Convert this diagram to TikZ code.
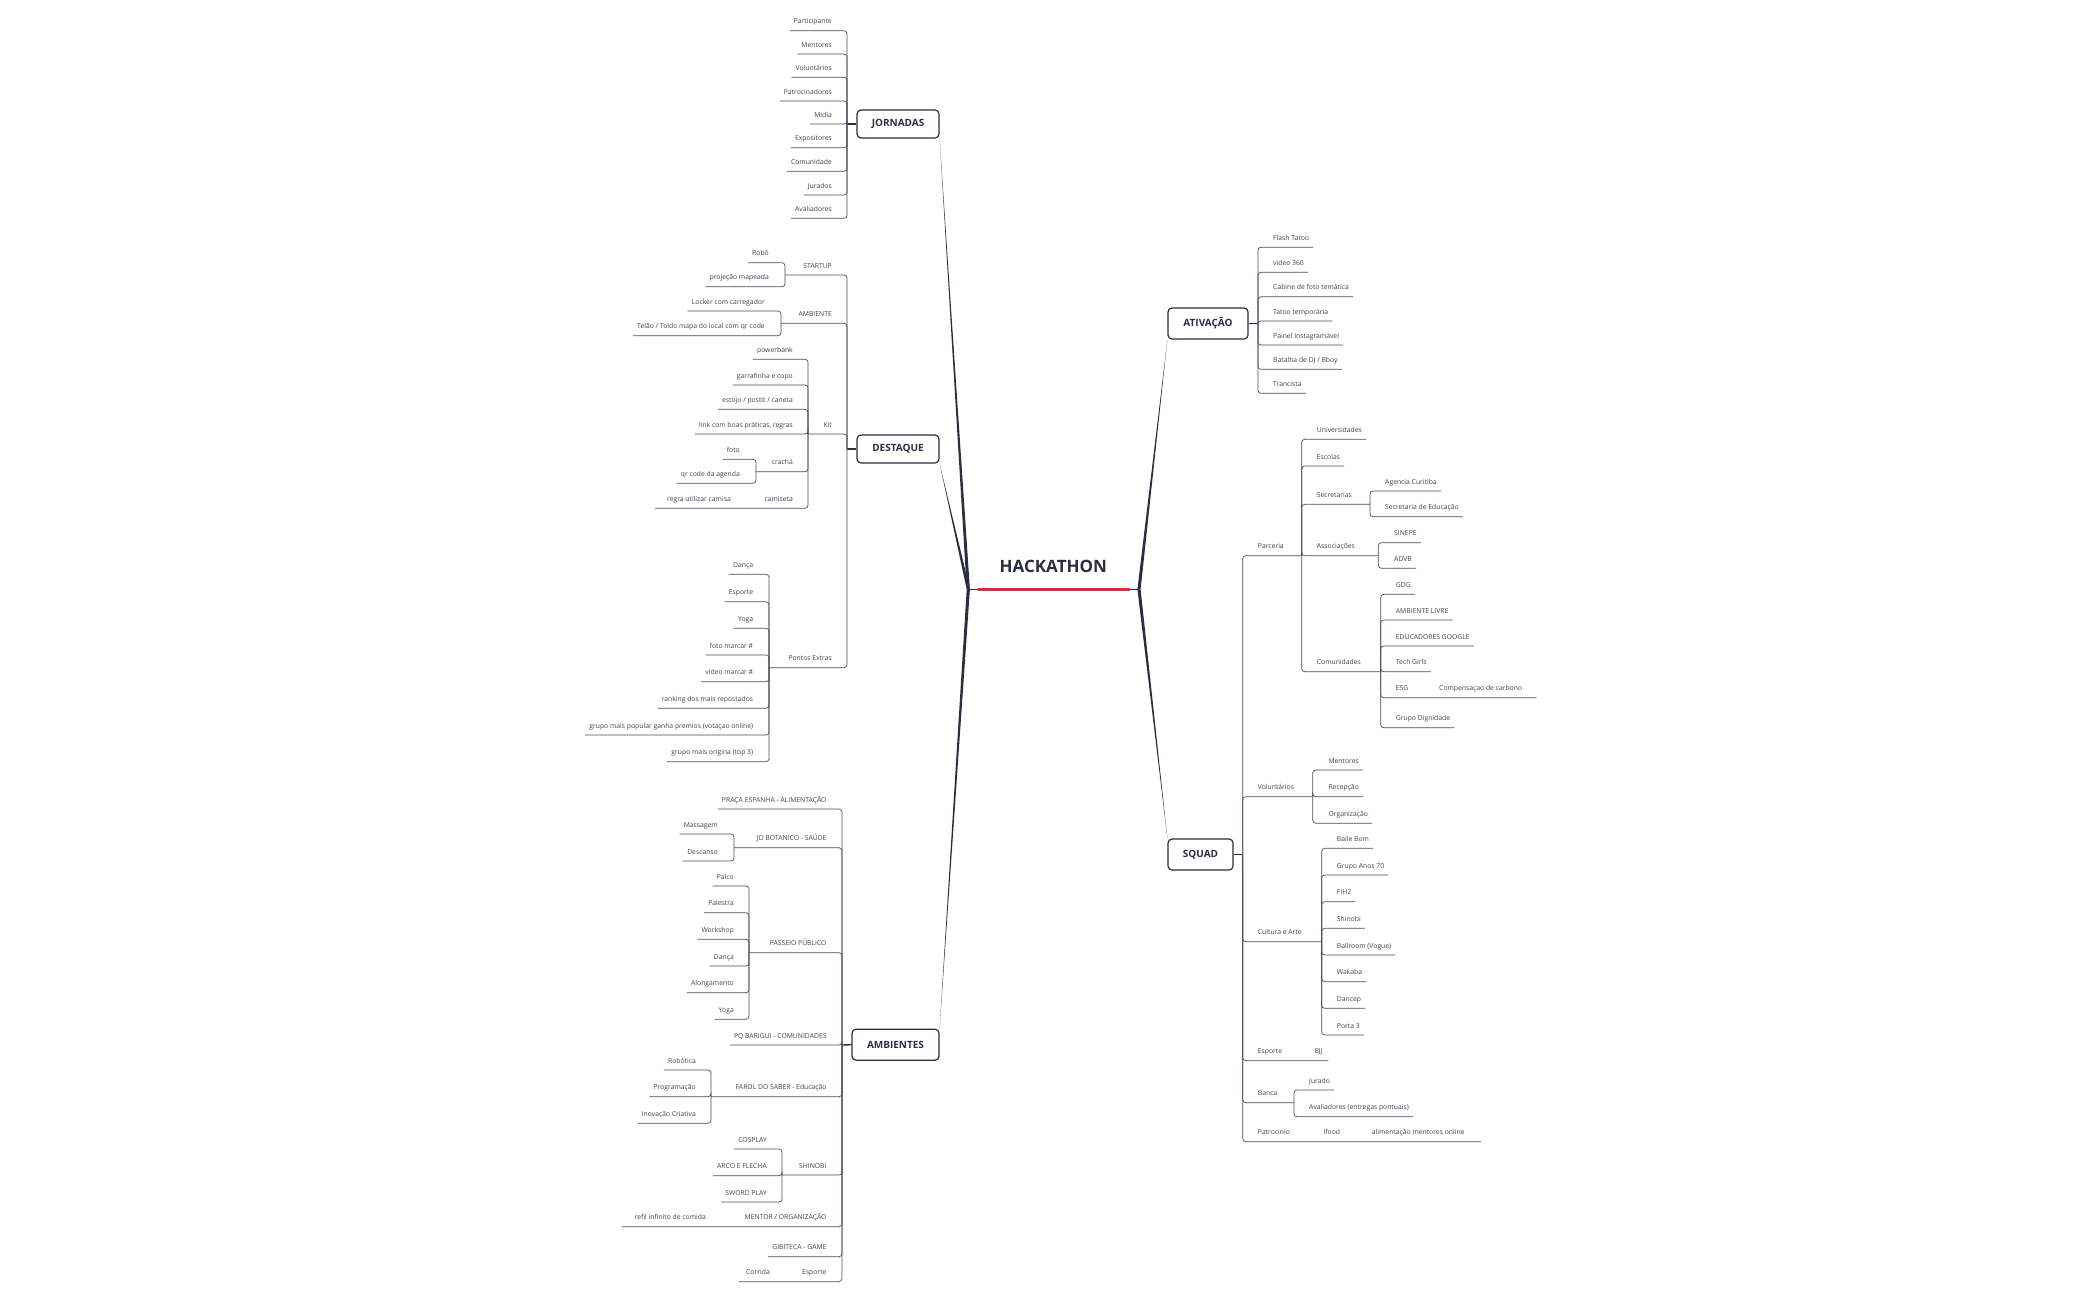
\documentclass[tikz,border=0pt]{standalone}
\usepackage{fontspec}
\setmainfont{Open Sans}
\definecolor{dk}{HTML}{2B2D42}
\definecolor{tx}{HTML}{3F4150}
\definecolor{rd}{HTML}{E8233F}
\tikzset{
 it/.style={inner sep=0pt,font=\fontsize{6.8}{8}\selectfont,text=tx},
 br/.style={draw=dk!85,line width=0.7pt,rounded corners=3pt},
 topic/.style={draw=dk,line width=1.2pt,rounded corners=4pt,font=\fontsize{10}{12}\selectfont\bfseries,text=dk,inner sep=0pt},
 stub/.style={draw=dk,line width=1.4pt}
}
% left item: name, xv, py, y, text, textright
\newcommand\LI[6]{\node[it,anchor=base east] (#1) at (#6,#4-7) {#5};
 \draw[br] (#2,#3) -- (#2,#4) -- (#1.west |- 0,#4) -- ++(-4,0);}
% left parent with explicit left end
\newcommand\LP[7]{\node[it,anchor=base east] (#1) at (#6,#4-7) {#5};
 \draw[br] (#2,#3) -- (#2,#4) -- (#7,#4);}
\newcommand\RI[6]{\node[it,anchor=base west] (#1) at (#6,#4-7) {#5};
 \draw[br] (#2,#3) -- (#2,#4) -- (#1.east |- 0,#4) -- ++(4,0);}
\newcommand\RP[7]{\node[it,anchor=base west] (#1) at (#6,#4-7) {#5};
 \draw[br] (#2,#3) -- (#2,#4) -- (#7,#4);}
\begin{document}
\begin{tikzpicture}[x=1pt,y=-1pt]
\useasboundingbox (0,0) rectangle (2100,1299);
% center
\node[font=\fontsize{17}{20}\selectfont\bfseries,text=dk] (hack) at (1053.3,566) {HACKATHON};
\coordinate (jl) at (968.3,589.3);
\coordinate (jr) at (1139,589.3);
\draw[rd,line width=3.2pt] (977.7,589.3) -- (1130,589.3);
\draw[stub] (jl) -- (977.7,589.3);
\draw[stub] (1130,589.3) -- (jr);
% topics
\node[topic,minimum width=82pt,minimum height=28pt] (jor) at (898,124) {JORNADAS};
\node[topic,minimum width=82pt,minimum height=28pt] (des) at (898,449) {DESTAQUE};
\node[topic,minimum width=87pt,minimum height=31pt] (amb) at (895.5,1044.7) {AMBIENTES};
\node[topic,minimum width=80pt,minimum height=31pt] (ati) at (1208,323.5) {ATIVAÇÃO};
\node[topic,minimum width=65pt,minimum height=31pt] (squ) at (1200.5,854.5) {SQUAD};
% tapered connectors
\fill[dk] ([xshift=-1.6pt]jl) -- ([xshift=1.6pt]jl) -- (jor.south east) -- cycle;
\fill[dk] ([xshift=-1.6pt]jl) -- ([xshift=1.6pt]jl) -- (des.south east) -- cycle;
\fill[dk] ([xshift=-1.6pt]jl) -- ([xshift=1.6pt]jl) -- (amb.north east) -- cycle;
\fill[dk] ([xshift=-1.6pt]jr) -- ([xshift=1.6pt]jr) -- (ati.south west) -- cycle;
\fill[dk] ([xshift=-1.6pt]jr) -- ([xshift=1.6pt]jr) -- (squ.north west) -- cycle;
% stubs topic -> vertical
\draw[stub] (jor.west) -- (847,124);
\draw[stub] (des.west) -- (847,449);
\draw[stub] (amb.west) -- (842,1045);
\draw[stub] (ati.east) -- (1258,323.5);
\draw[stub] (squ.east) -- (1242.7,854.5);
% ---------- JORNADAS
\LI{j1}{847}{124}{30.7}{Participante}{832}
\LI{j2}{847}{124}{54}{Mentores}{832}
\LI{j3}{847}{124}{77.3}{Voluntários}{832}
\LI{j4}{847}{124}{101}{Patrocinadores}{832}
\LI{j5}{847}{124}{124}{Midia}{832}
\LI{j6}{847}{124}{147.7}{Expositores}{832}
\LI{j7}{847}{124}{171.3}{Comunidade}{832}
\LI{j8}{847}{124}{195}{Jurados}{832}
\LI{j9}{847}{124}{218.3}{Avaliadores}{832}
% ---------- DESTAQUE
\LP{st}{847}{449}{275}{STARTUP}{832}{785}
\LI{st1}{785}{275}{262.7}{Robô}{769}
\LI{st2}{785}{275}{286.7}{projeção mapeada}{769}
\LP{am}{847}{449}{323.3}{AMBIENTE}{832}{781}
\LI{am1}{781}{323.3}{311}{Locker com carregador}{765}
\LI{am2}{781}{323.3}{335.7}{Telão / Toldo mapa do local com qr code}{765}
\LP{kit}{847}{449}{434}{Kit}{832}{808}
\LI{k1}{808}{434}{359.3}{powerbank}{793}
\LI{k2}{808}{434}{385}{garrafinha e copo}{793}
\LI{k3}{808}{434}{409.3}{estojo / postit / caneta}{793}
\LI{k4}{808}{434}{434}{link com boas práticas, regras}{793}
\LP{k5}{808}{434}{471.7}{crachá}{793}{756}
\LI{k51}{756}{471.7}{459.3}{foto}{740}
\LI{k52}{756}{471.7}{483.3}{qr code da agenda}{740}
\LP{k6}{808}{434}{508.3}{camiseta}{793}{655}
\node[it,anchor=base east] (k61) at (731,501.3) {regra utilizar camisa};
\LP{pe}{847}{449}{667.7}{Pontos Extras}{832}{769}
\LI{pe1}{769}{667.7}{574.3}{Dança}{753.3}
\LI{pe2}{769}{667.7}{601.7}{Esporte}{753.3}
\LI{pe3}{769}{667.7}{628.3}{Yoga}{753.3}
\LI{pe4}{769}{667.7}{655}{foto marcar \#}{753.3}
\LI{pe5}{769}{667.7}{681.7}{video marcar \#}{753.3}
\LI{pe6}{769}{667.7}{708.3}{ranking dos mais repostados}{753.3}
\LI{pe7}{769}{667.7}{735}{grupo mais popular ganha premios (votaçao online)}{753.3}
\LI{pe8}{769}{667.7}{761.7}{grupo mais origina (top 3)}{753.3}
% ---------- AMBIENTES
\LI{a1}{842}{1045}{809}{PRAÇA ESPANHA - ALIMENTAÇÃO}{826.7}
\LP{a2}{842}{1045}{847.7}{JD BOTANICO - SAÚDE}{826.7}{734}
\LI{a21}{734}{847.7}{834}{Massagem}{718}
\LI{a22}{734}{847.7}{861}{Descanso}{718}
\LP{a3}{842}{1045}{952.7}{PASSEIO PÚBLICO}{826.7}{749}
\LI{a31}{749}{952.7}{886}{Palco}{734}
\LI{a32}{749}{952.7}{912.7}{Palestra}{734}
\LI{a33}{749}{952.7}{939.3}{Workshop}{734}
\LI{a34}{749}{952.7}{966}{Dança}{734}
\LI{a35}{749}{952.7}{992.7}{Alongamento}{734}
\LI{a36}{749}{952.7}{1019.3}{Yoga}{734}
\LI{a4}{842}{1045}{1045}{PQ BARIGUI - COMUNIDADES}{826.7}
\LP{a5}{842}{1045}{1096.7}{FAROL DO SABER - Educação}{826.7}{711}
\LI{a51}{711}{1096.7}{1070}{Robótica}{696}
\LI{a52}{711}{1096.7}{1096.7}{Programação}{696}
\LI{a53}{711}{1096.7}{1123.3}{Inovação Criativa}{696}
\LP{a6}{842}{1045}{1175}{SHINOBI}{826.7}{782}
\LI{a61}{782}{1175}{1149}{COSPLAY}{767}
\LI{a62}{782}{1175}{1175.7}{ARCO E FLECHA}{767}
\LI{a63}{782}{1175}{1202}{SWORD PLAY}{767}
\LP{a7}{842}{1045}{1226.7}{MENTOR / ORGANIZAÇÃO}{826.7}{622}
\node[it,anchor=base east] (a71) at (706,1219.7) {refil infinito de comida};
\LI{a8}{842}{1045}{1256.7}{GIBITECA - GAME}{826.7}
\LP{a9}{842}{1045}{1281.7}{Esporte}{826.7}{739}
\node[it,anchor=base east] (a91) at (770,1274.7) {Corrida};
% ---------- ATIVAÇÃO
\RI{t1}{1258}{323.5}{247.3}{Flash Tatoo}{1273}
\RI{t2}{1258}{323.5}{272.3}{video 360}{1273}
\RI{t3}{1258}{323.5}{296.7}{Cabine de foto temática}{1273}
\RI{t4}{1258}{323.5}{321}{Tatoo temporária}{1273}
\RI{t5}{1258}{323.5}{345}{Painel Instagramável}{1273}
\RI{t6}{1258}{323.5}{369.3}{Batalha de DJ / Bboy}{1273}
\RI{t7}{1258}{323.5}{393.3}{Trancista}{1273}
% ---------- SQUAD
\RP{pa}{1242.7}{854.5}{555.7}{Parceria}{1257.7}{1301.7}
\RI{pa1}{1301.7}{555.7}{439.3}{Universidades}{1316.7}
\RI{pa2}{1301.7}{555.7}{466}{Escolas}{1316.7}
\RP{pa3}{1301.7}{555.7}{504.3}{Secretarias}{1316.7}{1370}
\RI{pa31}{1370}{504.3}{491}{Agencia Curitiba}{1385}
\RI{pa32}{1370}{504.3}{516.7}{Secretaria de Educação}{1385}
\RP{pa4}{1301.7}{555.7}{555.7}{Associações}{1316.7}{1378.3}
\RI{pa41}{1378.3}{555.7}{542.7}{SINEPE}{1394}
\RI{pa42}{1378.3}{555.7}{568.3}{ADVB}{1394}
\RP{pa5}{1301.7}{555.7}{671.7}{Comunidades}{1316.7}{1380.7}
\RI{pa51}{1380.7}{671.7}{594.3}{GDG}{1395.7}
\RI{pa52}{1380.7}{671.7}{620}{AMBIENTE LIVRE}{1395.7}
\RI{pa53}{1380.7}{671.7}{646}{EDUCADORES GOOGLE}{1395.7}
\RI{pa54}{1380.7}{671.7}{671.7}{Tech Girls}{1395.7}
\RP{pa55}{1380.7}{671.7}{697.7}{ESG}{1395.7}{1536.7}
\node[it,anchor=base west] (pa551) at (1439,690.7) {Compensaçao de carbono};
\RI{pa56}{1380.7}{671.7}{727.7}{Grupo Dignidade}{1395.7}
\RP{vo}{1242.7}{854.5}{796.7}{Voluntários}{1257.7}{1312.7}
\RI{vo1}{1312.7}{796.7}{770}{Mentores}{1328.3}
\RI{vo2}{1312.7}{796.7}{796.7}{Recepção}{1328.3}
\RI{vo3}{1312.7}{796.7}{823.3}{Organização}{1328.3}
\RP{cu}{1242.7}{854.5}{941.7}{Cultura e Arte}{1257.7}{1321.7}
\RI{cu1}{1321.7}{941.7}{848.3}{Baile Bom}{1336.7}
\RI{cu2}{1321.7}{941.7}{875}{Grupo Anos 70}{1336.7}
\RI{cu3}{1321.7}{941.7}{901.7}{FIH2}{1336.7}
\RI{cu4}{1321.7}{941.7}{928.3}{Shinobi}{1336.7}
\RI{cu5}{1321.7}{941.7}{955}{Ballroom (Vogue)}{1336.7}
\RI{cu6}{1321.7}{941.7}{981.7}{Wakaba}{1336.7}
\RI{cu7}{1321.7}{941.7}{1008.3}{Dancep}{1336.7}
\RI{cu8}{1321.7}{941.7}{1035}{Porta 3}{1336.7}
\RP{es}{1242.7}{854.5}{1060.7}{Esporte}{1257.7}{1328.3}
\node[it,anchor=base west] (es1) at (1314.3,1053.7) {BJJ};
\RP{ba}{1242.7}{854.5}{1102.7}{Banca}{1257.7}{1294}
\RI{ba1}{1294}{1102.7}{1090}{Jurado}{1309}
\RI{ba2}{1294}{1102.7}{1116.7}{Avaliadores (entregas pontuais)}{1309}
\RP{pt}{1242.7}{854.5}{1141.7}{Patrocinio}{1257.7}{1481}
\node[it,anchor=base west] (pt1) at (1323.3,1134.7) {Ifood};
\node[it,anchor=base west] (pt2) at (1371.7,1134.7) {alimentação mentores online};
\end{tikzpicture}
\end{document}
